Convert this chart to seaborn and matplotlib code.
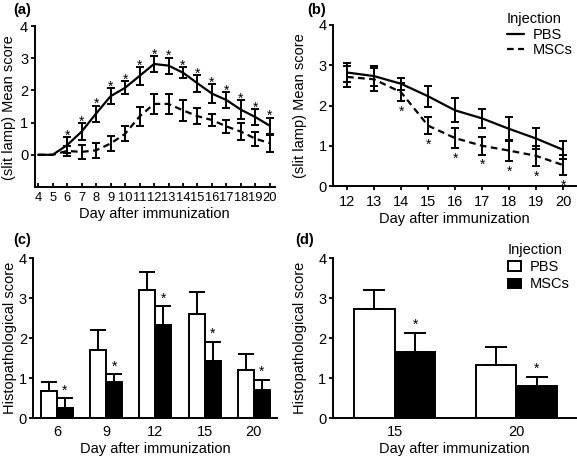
import numpy as np
import pandas as pd
import matplotlib
matplotlib.use("Agg")
import matplotlib.pyplot as plt
import seaborn as sns
from matplotlib.lines import Line2D
from matplotlib.patches import Patch

# ---------------- data ----------------
days_a = list(range(4, 21))
pbs_a = [0, 0, 0.30, 0.72, 1.28, 1.82, 2.08, 2.45, 2.82, 2.77, 2.55, 2.22, 1.90, 1.70, 1.40, 1.17, 0.90]
pbs_a_err = [0, 0, 0.25, 0.26, 0.25, 0.24, 0.20, 0.28, 0.25, 0.25, 0.17, 0.26, 0.30, 0.25, 0.30, 0.24, 0.25]
msc_a = [0, 0, 0.12, 0.09, 0.14, 0.35, 0.65, 1.19, 1.58, 1.58, 1.38, 1.20, 1.08, 0.88, 0.72, 0.50, 0.36]
msc_a_err = [0, 0, 0.16, 0.22, 0.24, 0.24, 0.23, 0.29, 0.31, 0.31, 0.32, 0.24, 0.20, 0.20, 0.26, 0.22, 0.26]
star_days_a = list(range(6, 21))

days_b = list(range(12, 21))
pbs_b = [2.82, 2.73, 2.54, 2.23, 1.88, 1.68, 1.42, 1.18, 0.90]
pbs_b_err = [0.23, 0.25, 0.15, 0.26, 0.30, 0.23, 0.30, 0.25, 0.22]
msc_b = [2.71, 2.65, 2.33, 1.50, 1.19, 1.00, 0.88, 0.75, 0.52]
msc_b_err = [0.26, 0.28, 0.22, 0.22, 0.24, 0.22, 0.27, 0.25, 0.24]
star_days_b = list(range(14, 21))

days_c = ["6", "9", "12", "15", "20"]
pbs_c = [0.68, 1.72, 3.22, 2.62, 1.22]
pbs_c_err = [0.22, 0.50, 0.43, 0.53, 0.40]
msc_c = [0.27, 0.90, 2.33, 1.43, 0.71]
msc_c_err = [0.23, 0.20, 0.47, 0.49, 0.25]

days_d = ["15", "20"]
pbs_d = [2.73, 1.33]
pbs_d_err = [0.48, 0.46]
msc_d = [1.65, 0.80]
msc_d_err = [0.49, 0.24]

groups = ["PBS", "MSCs"]
xlabel = "Day after immunization"

# ---------------- style ----------------
sns.set_theme(style="ticks")
plt.rcParams["font.family"] = ["Liberation Sans", "DejaVu Sans"]
FS = 10.5
plt.rcParams.update({
    "font.size": FS,
    "axes.labelsize": FS,
    "xtick.labelsize": FS,
    "ytick.labelsize": FS,
    "axes.linewidth": 1.4,
    "xtick.major.width": 1.3,
    "ytick.major.width": 1.3,
    "xtick.major.size": 3,
    "ytick.major.size": 3,
    "ytick.major.pad": 1.5,
    "axes.edgecolor": "black",
    "xtick.color": "black",
    "ytick.color": "black",
    "text.color": "black",
    "axes.labelcolor": "black",
})

W, H = 577, 457
fig = plt.figure(figsize=(W / 100, H / 100), dpi=100)


def px_axes(left, top, right, bottom):
    return fig.add_axes([left / W, 1 - bottom / H, (right - left) / W, (bottom - top) / H])


ax_a = px_axes(34.5, 26, 275, 187)
ax_b = px_axes(333, 25, 576, 186)
ax_c = px_axes(33.3, 258.3, 277, 418.3)
ax_d = px_axes(332.7, 258.3, 576, 418.3)

LW = 1.6
EB = dict(fmt="none", ecolor="black", elinewidth=1.4, capsize=3, capthick=1.4)
DASHES = {"PBS": "", "MSCs": (3, 2)}


def star(ax, x, y, dy_pt):
    ax.annotate("*", (x, y), xytext=(0, dy_pt), textcoords="offset points",
                ha="center", va="baseline", fontsize=10, color="black")


def line_panel(ax, days, pbs, pbs_err, msc, msc_err):
    df = pd.DataFrame({
        "Day": days * 2,
        "Score": pbs + msc,
        "Injection": ["PBS"] * len(days) + ["MSCs"] * len(days),
    })
    sns.lineplot(data=df, x="Day", y="Score", style="Injection", style_order=groups,
                 dashes=DASHES, color="black", linewidth=LW, errorbar=None,
                 legend=False, ax=ax)
    for vals, errs in ((pbs, pbs_err), (msc, msc_err)):
        d = np.array(days, float)
        v = np.array(vals, float)
        e = np.array(errs, float)
        m = e > 0
        ax.errorbar(d[m], v[m], yerr=e[m], **EB)
    sns.despine(ax=ax)
    ax.set_ylabel("(slit lamp) Mean score")
    ax.set_xlabel(xlabel, labelpad=2)


# ---- (a) ----
line_panel(ax_a, days_a, pbs_a, pbs_a_err, msc_a, msc_a_err)
for d in star_days_a:
    i = days_a.index(d)
    star(ax_a, d, pbs_a[i] + pbs_a_err[i], -1.8)
ax_a.set_xlim(3.75, 20.35)
ax_a.set_ylim(-1, 4)
ax_a.set_xticks(days_a)
ax_a.set_yticks([0, 1, 2, 3, 4])
ax_a.tick_params(axis="x", direction="in", pad=3.5, labelsize=9.3)
ax_a.yaxis.set_label_coords(-0.077, 0.49)

# ---- (b) ----
line_panel(ax_b, days_b, pbs_b, pbs_b_err, msc_b, msc_b_err)
for d in star_days_b:
    i = days_b.index(d)
    star(ax_b, d, msc_b[i] - msc_b_err[i], -10.5)
ax_b.set_xlim(11.48, 20.48)
ax_b.set_ylim(0, 4)
ax_b.set_xticks(days_b)
ax_b.set_yticks([0, 1, 2, 3, 4])
ax_b.yaxis.set_label_coords(-0.108, 0.5)
handles_b = [Line2D([], [], color="black", lw=LW, linestyle="-"),
             Line2D([], [], color="black", lw=LW, dashes=(3, 2))]
ax_b.legend(handles_b, groups, title="Injection", loc="upper left",
            bbox_to_anchor=(507 / W, 1 - 12 / H), bbox_transform=fig.transFigure,
            frameon=False, borderpad=0, borderaxespad=0, handlelength=1.15,
            handletextpad=0.6, labelspacing=0.12, alignment="left",
            fontsize=FS, title_fontsize=FS)


def bar_panel(ax, days, pbs, pbs_err, msc, msc_err, width, capsize):
    df = pd.DataFrame({
        "Day": days * 2,
        "Score": pbs + msc,
        "Injection": ["PBS"] * len(days) + ["MSCs"] * len(days),
    })
    sns.barplot(data=df, x="Day", y="Score", hue="Injection", order=days,
                hue_order=groups, palette={"PBS": "white", "MSCs": "black"},
                edgecolor="black", linewidth=1.4, width=width, saturation=1,
                errorbar=None, legend=False, ax=ax)
    for cont, errs in zip(ax.containers, (pbs_err, msc_err)):
        for bar, e in zip(cont, errs):
            x = bar.get_x() + bar.get_width() / 2
            h = bar.get_height()
            ax.errorbar([x], [h], yerr=[[0], [e]], fmt="none", ecolor="black",
                        elinewidth=1.4, capsize=capsize, capthick=1.4)
    for bar, e in zip(ax.containers[1], msc_err):
        star(ax, bar.get_x() + bar.get_width() / 2, bar.get_height() + e, 2.8)
    sns.despine(ax=ax)
    ax.set_ylim(0, 4)
    ax.set_yticks([0, 1, 2, 3, 4])
    ax.tick_params(axis="x", length=0, pad=5)
    ax.set_ylabel("Histopathological score")
    ax.set_xlabel(xlabel, labelpad=2)


# ---- (c) ----
bar_panel(ax_c, days_c, pbs_c, pbs_c_err, msc_c, msc_c_err, 0.65, 5.5)
ax_c.set_xlim(-0.48, 4.47)
ax_c.yaxis.set_label_coords(-0.066, 0.5)

# ---- (d) ----
bar_panel(ax_d, days_d, pbs_d, pbs_d_err, msc_d, msc_d_err, 0.67, 8)
ax_d.set_xlim(-0.51, 1.49)
ax_d.yaxis.set_label_coords(-0.105, 0.5)
handles_d = [Patch(facecolor="white", edgecolor="black", linewidth=1.4),
             Patch(facecolor="black", edgecolor="black", linewidth=1.4)]
ax_d.legend(handles_d, groups, title="Injection", loc="upper left",
            bbox_to_anchor=(508 / W, 1 - 243 / H), bbox_transform=fig.transFigure,
            frameon=False, borderpad=0, borderaxespad=0, handlelength=0.9,
            handleheight=0.6, handletextpad=0.6, labelspacing=0.22, alignment="left",
            fontsize=FS, title_fontsize=FS)

# panel letters
for lab, x, y in (("(a)", 13, 3), ("(b)", 307, 3), ("(c)", 13, 233), ("(d)", 295, 233)):
    fig.text(x / W, 1 - y / H, lab, ha="left", va="top", fontsize=FS, fontweight="bold")

fig.savefig("out.png", dpi=100)
